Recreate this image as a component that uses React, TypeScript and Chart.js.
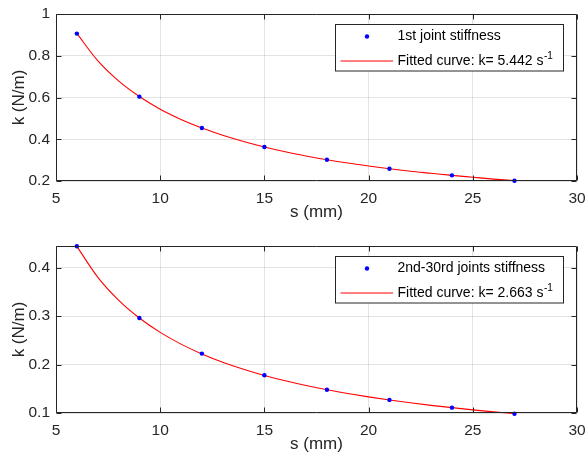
import React, { useEffect, useRef } from "react";
import { Chart, registerables } from "chart.js";
Chart.register(...registerables);

// measured stiffness points
const sPoints = [6, 9, 12, 15, 18, 21, 24, 27];
const k1Points = [0.906, 0.604, 0.454, 0.363, 0.302, 0.259, 0.227, 0.2015];
const k2Points = [0.444, 0.296, 0.2225, 0.178, 0.148, 0.127, 0.111, 0.0986];

// fitted curves
const sCurve = [6, 7, 8, 9, 10, 11, 12, 13, 14, 15, 16, 17, 18, 19, 20, 21, 22, 23, 24, 25, 26, 27];
const k1Curve = [0.907, 0.777, 0.68, 0.605, 0.544, 0.495, 0.4535, 0.419, 0.389, 0.363, 0.34, 0.32, 0.302, 0.286, 0.272, 0.259, 0.247, 0.237, 0.227, 0.218, 0.209, 0.2016];
const k2Curve = [0.4438, 0.3804, 0.3329, 0.2959, 0.2663, 0.2421, 0.2219, 0.2048, 0.1902, 0.1775, 0.1664, 0.1566, 0.1479, 0.1402, 0.1332, 0.1268, 0.121, 0.1158, 0.111, 0.1065, 0.1024, 0.0986];

const xRange = [5, 30];
const xStep = 5;
const y1Range = [0.2, 1];
const y1Step = 0.2;
const y2Range = [0.1, 0.4445];
const y2Step = 0.1;

const pointLabels = ["1st joint stiffness", "2nd-30rd joints stiffness"];
const curveLabels = ["Fitted curve: k= 5.442 s", "Fitted curve: k= 2.663 s"];
const superscript = "-1";
const xTitle = "s (mm)";
const yTitle = "k (N/m)";

const FONT = "'Liberation Sans', Arial, Helvetica, sans-serif";
const AX = "#262626";

const boxPlugin = {
  id: "matlabBox",
  afterDraw(chart: any, _args: any, opts: any) {
    const ctx = chart.ctx;
    const { left, right, top, bottom } = chart.chartArea;
    const xs = chart.scales.x;
    const ys = chart.scales.y;
    ctx.save();
    ctx.strokeStyle = AX;
    ctx.lineWidth = 1;
    const L = Math.round(left) + 0.5, R = Math.round(right) - 0.5, T = Math.round(top) + 0.5, B = Math.round(bottom) - 0.5;
    ctx.beginPath();
    ctx.rect(L, T, R - L, B - T);
    ctx.stroke();
    const tl = 5;
    ctx.beginPath();
    xs.ticks.forEach((t: any) => {
      const p = Math.round(xs.getPixelForValue(t.value)) + 0.5;
      ctx.moveTo(p, B); ctx.lineTo(p, B - tl);
      ctx.moveTo(p, T); ctx.lineTo(p, T + tl);
    });
    ys.ticks.forEach((t: any) => {
      const p = Math.round(ys.getPixelForValue(t.value)) + 0.5;
      ctx.moveTo(L, p); ctx.lineTo(L + tl, p);
      ctx.moveTo(R, p); ctx.lineTo(R - tl, p);
    });
    ctx.stroke();

    // legend
    const bw = 228, bh = 46.5;
    const bx = Math.round(right - 14 - bw) + 0.5;
    const by = Math.round(top + 10) + 0.5;
    ctx.fillStyle = "#ffffff";
    ctx.fillRect(bx, by, bw, bh);
    ctx.strokeStyle = AX;
    ctx.strokeRect(bx, by, bw, bh);
    const r1 = by + 12, r2 = by + 36.5;
    ctx.fillStyle = "#0000ff";
    ctx.beginPath();
    ctx.arc(bx + 31.5, r1, 2.2, 0, Math.PI * 2);
    ctx.fill();
    ctx.strokeStyle = "#ff0000";
    ctx.beginPath();
    ctx.moveTo(bx + 5, r2);
    ctx.lineTo(bx + 57.5, r2);
    ctx.stroke();
    ctx.fillStyle = "#000000";
    ctx.font = `14px ${FONT}`;
    ctx.textBaseline = "middle";
    ctx.textAlign = "left";
    const tx = bx + 62;
    ctx.fillText(opts.pointLabel, tx, r1);
    ctx.fillText(opts.curveLabel, tx, r2);
    const w = ctx.measureText(opts.curveLabel).width;
    ctx.font = `10px ${FONT}`;
    ctx.fillText(superscript, tx + w + 0.5, r2 - 4.5);
    ctx.restore();
  },
};

const fmt = (v: any) => String(parseFloat(Number(v).toFixed(3)));

function makeConfig(idx: number) {
  const kPts = idx === 0 ? k1Points : k2Points;
  const kCur = idx === 0 ? k1Curve : k2Curve;
  const yr = idx === 0 ? y1Range : y2Range;
  const ystep = idx === 0 ? y1Step : y2Step;
  return {
    type: "scatter" as const,
    data: {
      datasets: [
        {
          label: pointLabels[idx],
          data: sPoints.map((s, i) => ({ x: s, y: kPts[i] })),
          showLine: false,
          pointRadius: 2.2,
          pointBackgroundColor: "#0000ff",
          pointBorderWidth: 0,
          clip: false as any,
        },
        {
          label: curveLabels[idx],
          data: sCurve.map((s, i) => ({ x: s, y: kCur[i] })),
          showLine: true,
          borderColor: "#ff0000",
          borderWidth: 1.1,
          pointRadius: 0,
          cubicInterpolationMode: "monotone" as const,
          clip: false as any,
        },
      ],
    },
    options: {
      responsive: false,
      animation: false as const,
      devicePixelRatio: 1,
      layout: { padding: { left: 0, right: 9, top: 14, bottom: 7.5 } },
      plugins: {
        legend: { display: false },
        tooltip: { enabled: false },
        matlabBox: { pointLabel: pointLabels[idx], curveLabel: curveLabels[idx] },
      },
      scales: {
        x: {
          type: "linear" as const,
          min: xRange[0],
          max: xRange[1],
          afterFit: (s: any) => { s.height = 43.5; s.paddingRight = 0; s.paddingLeft = 0; },
          ticks: {
            stepSize: xStep,
            includeBounds: false,
            color: AX,
            font: { family: FONT, size: 15.5 },
            padding: 8,
            maxRotation: 0,
            callback: fmt,
          },
          grid: { color: "rgba(38,38,38,0.13)", drawTicks: false },
          border: { display: false },
          title: {
            display: true,
            text: xTitle,
            color: AX,
            font: { family: FONT, size: 17 },
            padding: { top: 0, bottom: 1.5 },
          },
        },
        y: {
          type: "linear" as const,
          min: yr[0],
          max: yr[1],
          afterFit: (s: any) => { s.width = 56; s.paddingTop = 0; s.paddingBottom = 0; },
          ticks: {
            stepSize: ystep,
            includeBounds: false,
            color: AX,
            font: { family: FONT, size: 15.5 },
            padding: 6,
            callback: fmt,
          },
          grid: { color: "rgba(38,38,38,0.13)", drawTicks: false },
          border: { display: false },
          title: {
            display: true,
            text: yTitle,
            color: AX,
            font: { family: FONT, size: 17 },
            padding: { top: 9.5, bottom: 0 },
          },
        },
      },
    },
    plugins: [boxPlugin],
  };
}

function Panel({ idx }: { idx: number }) {
  const ref = useRef<HTMLCanvasElement | null>(null);
  useEffect(() => {
    if (!ref.current) return;
    const chart = new Chart(ref.current, makeConfig(idx) as any);
    return () => chart.destroy();
  }, [idx]);
  return <canvas ref={ref} width={586} height={232} style={{ display: "block", width: 586, height: 232 }} />;
}

export default function App() {
  return (
    <div style={{ position: "absolute", left: 0, top: 0, width: 586, height: 464, background: "#ffffff" }}>
      <Panel idx={0} />
      <Panel idx={1} />
    </div>
  );
}
